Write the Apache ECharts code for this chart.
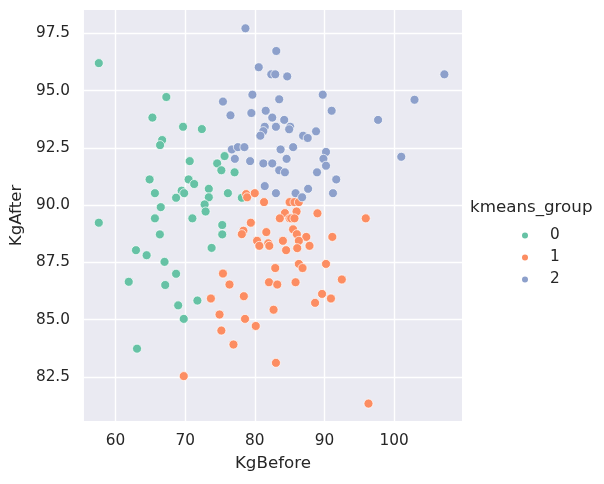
<!DOCTYPE html>
<html><head><meta charset="utf-8">
<script src="https://cdn.jsdelivr.net/npm/echarts@6/dist/echarts.min.js"></script>
<style>html,body{margin:0;padding:0;background:#fff}#c{width:604px;height:484px}</style>
</head><body><div id="c"></div>
<script>
const xTicks = [60, 70, 80, 90, 100];
const yTicks = [82.5, 85.0, 87.5, 90.0, 92.5, 95.0, 97.5];
const groupNames = ['0', '1', '2'];
const group0 = [[57.6,96.2],[57.6,89.23],[67.3,94.72],[65.3,93.82],[69.7,93.42],[72.4,93.32],[66.7,92.84],[66.4,92.62],[70.66,91.92],[75.66,92.14],[74.6,91.82],[75.2,91.52],[77.1,91.43],[64.9,91.12],[70.5,91.12],[71.3,90.92],[69.5,90.63],[69.86,90.52],[73.4,90.71],[73.4,90.34],[65.66,90.52],[68.7,90.32],[72.8,90.03],[72.94,89.72],[66.5,89.91],[71.04,89.42],[65.66,89.42],[66.37,88.72],[73.8,88.13],[62.94,88.03],[64.47,87.81],[67.04,87.52],[68.7,87.0],[61.9,86.65],[67.14,86.51],[71.76,85.83],[69.0,85.62],[69.8,85.03],[63.09,83.73],[76.14,90.52],[78.14,90.32],[75.33,89.13],[75.33,88.72]];
const group1 = [[78.76,90.48],[78.9,90.34],[80.0,90.52],[81.33,90.13],[85.0,90.13],[85.7,90.13],[86.33,90.13],[86.0,89.72],[84.33,89.65],[89.0,89.64],[83.6,89.42],[85.0,89.42],[85.23,89.42],[85.7,89.42],[79.43,89.23],[81.66,88.82],[85.5,88.94],[78.37,88.88],[78.14,88.73],[86.04,88.73],[87.4,88.61],[86.33,88.44],[91.14,88.61],[80.33,88.44],[81.94,88.33],[82.09,88.22],[80.66,88.22],[84.04,88.44],[84.5,88.03],[86.1,88.12],[87.86,88.22],[75.43,87.01],[82.94,87.25],[86.33,87.43],[86.86,87.25],[90.23,87.43],[76.37,86.53],[73.7,85.92],[78.43,86.02],[82.04,86.63],[83.23,86.53],[85.86,86.63],[89.66,86.12],[88.66,85.73],[90.94,85.92],[92.5,86.75],[82.7,85.43],[74.94,85.22],[78.6,85.03],[75.2,84.52],[80.14,84.72],[76.94,83.91],[83.04,83.11],[69.8,82.53],[95.94,89.42],[96.33,81.33]];
const group2 = [[78.66,97.72],[83.09,96.73],[80.57,96.02],[82.37,95.71],[82.94,95.71],[84.66,95.62],[79.66,94.82],[89.76,94.82],[75.43,94.52],[83.51,94.62],[76.51,93.92],[79.51,94.02],[81.57,94.12],[91.04,94.12],[82.51,93.82],[84.23,93.72],[81.43,93.42],[81.23,93.23],[83.04,93.42],[85.09,93.42],[84.94,93.31],[80.8,93.03],[86.94,93.03],[87.6,92.93],[88.8,93.22],[107.23,95.71],[102.94,94.6],[97.71,93.72],[101.04,92.11],[91.7,91.12],[76.71,92.43],[77.57,92.53],[78.51,92.53],[77.14,92.02],[79.33,91.92],[81.23,91.82],[82.51,91.82],[83.71,92.43],[85.51,92.53],[84.57,92.02],[83.51,91.52],[84.33,91.43],[90.23,92.32],[89.86,92.02],[90.23,91.72],[88.94,91.43],[81.43,90.83],[83.04,90.52],[85.86,90.52],[87.66,90.71],[86.8,90.34],[91.23,90.52]];
const colors = ['#66c2a5', '#fc8d62', '#8da0cb'];
const groups = [group0, group1, group2];

const FONT = 'DejaVu Sans';
const chart = echarts.init(document.getElementById('c'), null, {renderer: 'canvas'});
chart.setOption({
  animation: false,
  backgroundColor: '#ffffff',
  textStyle: {fontFamily: FONT},
  grid: {left: 82, right: 142, top: 10, bottom: 63, show: true, backgroundColor: '#eaeaf2', borderWidth: 0},
  xAxis: {
    type: 'value', min: 55.47, max: 109.76,
    name: 'KgBefore', nameLocation: 'middle', nameGap: 34,
    nameTextStyle: {fontFamily: FONT, fontSize: 16.7, color: '#262626'},
    axisLine: {show: false},
    axisTick: {show: false, customValues: xTicks},
    axisLabel: {customValues: xTicks, fontFamily: FONT, fontSize: 15.3, color: '#262626', margin: 13},
    splitLine: {show: true, lineStyle: {color: '#ffffff', width: 1.4}}
  },
  yAxis: {
    type: 'value', min: 80.57, max: 98.52,
    name: 'KgAfter', nameLocation: 'middle', nameGap: 57,
    nameTextStyle: {fontFamily: FONT, fontSize: 16.7, color: '#262626'},
    axisLine: {show: false},
    axisTick: {show: false, customValues: yTicks},
    axisLabel: {customValues: yTicks, fontFamily: FONT, fontSize: 15.3, color: '#262626', margin: 14,
      formatter: v => v.toFixed(1)},
    splitLine: {show: true, lineStyle: {color: '#ffffff', width: 1.4}}
  },
  legend: {
    orient: 'vertical', left: 515, top: 223, itemGap: 7,
    icon: 'circle', itemWidth: 8, itemHeight: 15,
    data: groupNames,
    textStyle: {fontFamily: FONT, fontSize: 15.3, color: '#262626', padding: [0, 0, 0, 16]}
  },
  graphic: [{
    type: 'text', left: 470, top: 199,
    style: {text: 'kmeans_group', fontFamily: FONT, fontSize: 16.7, fill: '#262626'}
  }],
  series: groups.map((g, i) => ({
    name: groupNames[i], type: 'scatter', data: g, symbolSize: 9,
    itemStyle: {color: colors[i], borderColor: '#ffffff', borderWidth: 0.7, opacity: 1}
  }))
});
</script></body></html>
